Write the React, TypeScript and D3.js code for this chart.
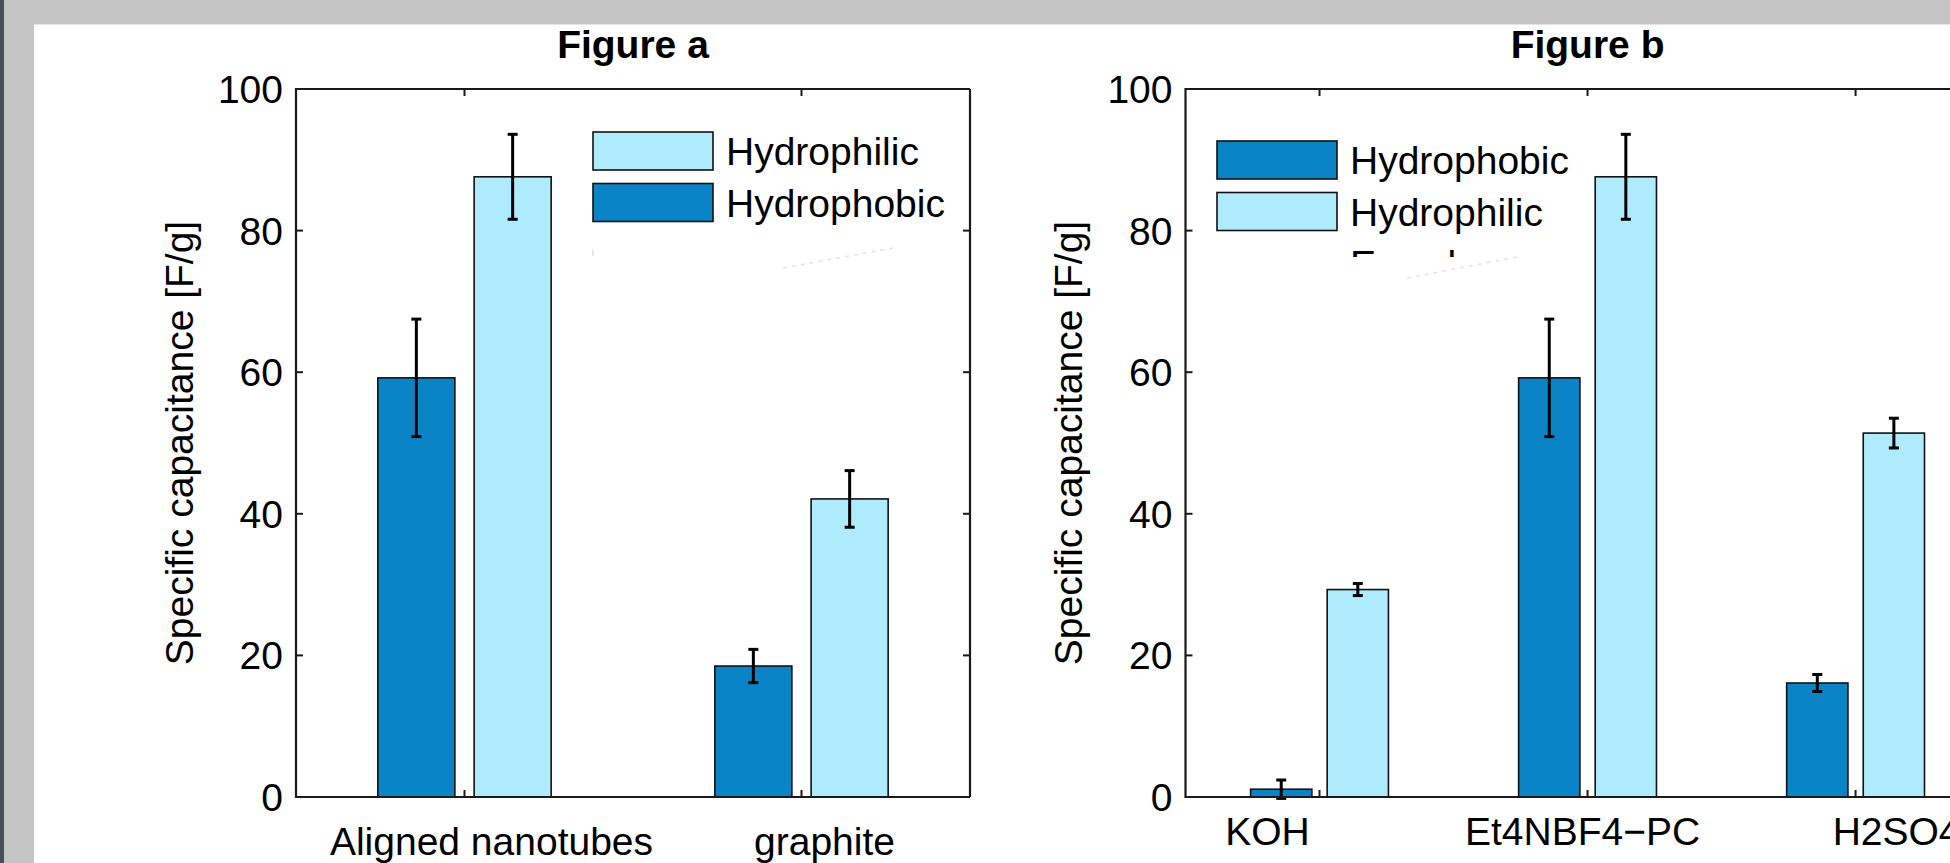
import React, { useRef, useEffect } from 'react';
import * as d3 from 'd3';

const HYDROPHOBIC_COLOR = '#0b84c7';
const HYDROPHILIC_COLOR = '#aeebfc';
const FONT = '"Liberation Sans", Arial, Helvetica, sans-serif';

const yTicks = [0, 20, 40, 60, 80, 100];

// Figure a
const categoriesA = ['Aligned nanotubes', 'graphite'];
const phobicA = [59.2, 18.5];
const phobicErrA = [8.3, 2.35];
const philicA = [87.6, 42.1];
const philicErrA = [6.0, 4.0];

// Figure b
const categoriesB = ['KOH', 'Et4NBF4\u2212PC', 'H2SO4'];
const phobicB = [1.1, 59.2, 16.1];
const phobicErrB = [1.3, 8.3, 1.2];
const philicB = [29.3, 87.6, 51.4];
const philicErrB = [0.85, 6.0, 2.1];

interface Series {
  name: string;
  values: number[];
  errors: number[];
  color: string;
}

interface PanelOpts {
  left: number;
  right: number;
  top: number;
  bottom: number;
  title: string;
  categories: string[];
  series: Series[];
  legend: Series[];
  legendX: number;
  legendY: number;
  labelShift: number[];
  labelBaseline: number;
  yLabelX: number;
}

function drawPanel(svg: d3.Selection<SVGSVGElement, unknown, null, undefined>, o: PanelOpts) {
  const g = svg.append('g');
  const n = o.categories.length;
  const x = d3.scaleLinear().domain([0.5, n + 0.5]).range([o.left, o.right]);
  const y = d3.scaleLinear().domain([0, 100]).range([o.bottom, o.top]);

  // matlab style grouped bars
  const ns = o.series.length;
  const groupW = Math.min(0.8, ns / (ns + 1.5));
  const barW = (groupW / ns) * 0.8;

  o.series.forEach((s, si) => {
    const off = -groupW / 2 + (groupW / ns) * (si + 0.5);
    g.selectAll(null)
      .data(s.values)
      .enter()
      .append('rect')
      .attr('x', (d, i) => x(i + 1 + off - barW / 2))
      .attr('y', (d) => y(d))
      .attr('width', x(1 + barW) - x(1))
      .attr('height', (d) => y(0) - y(d))
      .attr('fill', s.color)
      .attr('stroke', '#111')
      .attr('stroke-width', 1.6);
  });

  // error bars
  o.series.forEach((s, si) => {
    const off = -groupW / 2 + (groupW / ns) * (si + 0.5);
    s.values.forEach((v, i) => {
      const cx = x(i + 1 + off);
      const lo = y(v - s.errors[i]);
      const hi = y(v + s.errors[i]);
      g.append('line')
        .attr('x1', cx).attr('x2', cx)
        .attr('y1', lo).attr('y2', hi)
        .attr('stroke', '#000').attr('stroke-width', 3);
      [lo, hi].forEach((yy) => {
        g.append('line')
          .attr('x1', cx - 5).attr('x2', cx + 5)
          .attr('y1', yy).attr('y2', yy)
          .attr('stroke', '#000').attr('stroke-width', 3);
      });
    });
  });

  // axes: top/left/bottom always, right side only if it lies on the page
  const axisColor = '#1a1a1a';
  g.append('path')
    .attr('d', `M${o.right},${o.top}H${o.left}V${o.bottom}H${o.right}`)
    .attr('fill', 'none')
    .attr('stroke', axisColor)
    .attr('stroke-width', 2.2);
  if (o.right < 1950) {
    g.append('line')
      .attr('x1', o.right).attr('x2', o.right)
      .attr('y1', o.top).attr('y2', o.bottom)
      .attr('stroke', axisColor).attr('stroke-width', 2.2);
  }

  // y ticks (inward, both sides)
  const tickLen = 7;
  yTicks.forEach((t) => {
    const yy = y(t);
    g.append('line')
      .attr('x1', o.left).attr('x2', o.left + tickLen)
      .attr('y1', yy).attr('y2', yy)
      .attr('stroke', axisColor).attr('stroke-width', 2);
    if (o.right < 1950) {
      g.append('line')
        .attr('x1', o.right).attr('x2', o.right - tickLen)
        .attr('y1', yy).attr('y2', yy)
        .attr('stroke', axisColor).attr('stroke-width', 2);
    }
    g.append('text')
      .attr('x', o.left - 13)
      .attr('y', yy + 14)
      .attr('text-anchor', 'end')
      .attr('font-family', FONT)
      .attr('font-size', '39px')
      .attr('fill', '#000')
      .text(t);
  });

  // x ticks (inward, top and bottom) + labels
  o.categories.forEach((c, i) => {
    const xx = x(i + 1);
    g.append('line')
      .attr('x1', xx).attr('x2', xx)
      .attr('y1', o.bottom).attr('y2', o.bottom - tickLen)
      .attr('stroke', axisColor).attr('stroke-width', 2);
    g.append('line')
      .attr('x1', xx).attr('x2', xx)
      .attr('y1', o.top).attr('y2', o.top + tickLen)
      .attr('stroke', axisColor).attr('stroke-width', 2);
    g.append('text')
      .attr('x', xx + o.labelShift[i])
      .attr('y', o.labelBaseline)
      .attr('text-anchor', 'middle')
      .attr('font-family', FONT)
      .attr('font-size', '39px')
      .attr('fill', '#000')
      .text(c);
  });

  // title
  g.append('text')
    .attr('x', (o.left + o.right) / 2)
    .attr('y', 58)
    .attr('text-anchor', 'middle')
    .attr('font-family', FONT)
    .attr('font-size', '39px')
    .attr('font-weight', 'bold')
    .attr('fill', '#000')
    .text(o.title);

  // y axis label
  g.append('text')
    .attr('transform', `translate(${o.yLabelX},${(o.top + o.bottom) / 2}) rotate(-90)`)
    .attr('text-anchor', 'middle')
    .attr('font-family', FONT)
    .attr('font-size', '39px')
    .attr('fill', '#000')
    .text('Specific capacitance [F/g]');

  // legend (no box)
  o.legend.forEach((s, i) => {
    const top = o.legendY + i * 51.5;
    g.append('rect')
      .attr('x', o.legendX)
      .attr('y', top)
      .attr('width', 120)
      .attr('height', 38)
      .attr('fill', s.color)
      .attr('stroke', '#111')
      .attr('stroke-width', 1.6);
    g.append('text')
      .attr('x', o.legendX + 133)
      .attr('y', top + 19 + 14)
      .attr('font-family', FONT)
      .attr('font-size', '39px')
      .attr('fill', '#000')
      .text(s.name);
  });

  return g;
}

export default function App() {
  const svgRef = useRef<SVGSVGElement>(null);

  useEffect(() => {
    document.documentElement.style.overflow = 'hidden';
    document.body.style.margin = '0';
    document.body.style.overflow = 'hidden';
    if (!svgRef.current) return;
    const svg = d3.select(svgRef.current);
    svg.selectAll('*').remove();

    // window frame
    svg.append('rect').attr('width', 1950).attr('height', 863).attr('fill', '#c4c5c4');
    svg.append('rect').attr('width', 4).attr('height', 863).attr('fill', '#4c5054');
    svg.append('rect').attr('x', 34).attr('y', 24).attr('width', 1916).attr('height', 839).attr('fill', '#fff');
    svg.append('line')
      .attr('x1', 34).attr('x2', 1950).attr('y1', 24.5).attr('y2', 24.5)
      .attr('stroke', '#e4e4e4').attr('stroke-width', 1);

    const phobic = (values: number[], errors: number[]): Series => ({
      name: 'Hydrophobic', values, errors, color: HYDROPHOBIC_COLOR,
    });
    const philic = (values: number[], errors: number[]): Series => ({
      name: 'Hydrophilic', values, errors, color: HYDROPHILIC_COLOR,
    });

    const sa = [phobic(phobicA, phobicErrA), philic(philicA, philicErrA)];
    drawPanel(svg, {
      left: 296, right: 970, top: 89, bottom: 797,
      title: 'Figure a',
      categories: categoriesA,
      series: sa,
      legend: [sa[1], sa[0]],
      legendX: 593, legendY: 132,
      labelShift: [27, 23],
      labelBaseline: 855,
      yLabelX: 193,
    });

    const sb = [phobic(phobicB, phobicErrB), philic(philicB, philicErrB)];
    const gb = drawPanel(svg, {
      left: 1185.5, right: 1989.6, top: 89, bottom: 797,
      title: 'Figure b',
      categories: categoriesB,
      series: sb,
      legend: sb,
      legendX: 1217, legendY: 141,
      labelShift: [-52, -5, 41],
      labelBaseline: 845,
      yLabelX: 1082,
    });

    // partly hidden third legend entry in figure b
    const defs = svg.append('defs');
    defs.append('clipPath').attr('id', 'legclip')
      .append('rect').attr('x', 1300).attr('y', 200).attr('width', 300).attr('height', 57);
    gb.append('text')
      .attr('x', 1350)
      .attr('y', 278)
      .attr('clip-path', 'url(#legclip)')
      .attr('font-family', FONT)
      .attr('font-size', '39px')
      .attr('fill', '#000')
      .text('Error bars');

    // faint rendering artifacts under the legends
    svg.append('line')
      .attr('x1', 593).attr('y1', 250).attr('x2', 593).attr('y2', 256)
      .attr('stroke', '#dcdcdc').attr('stroke-width', 1.5);
    svg.append('line')
      .attr('x1', 783).attr('y1', 268).attr('x2', 893).attr('y2', 248)
      .attr('stroke', '#e2e2e2').attr('stroke-width', 1.5).attr('stroke-dasharray', '4,5');
    svg.append('line')
      .attr('x1', 1407).attr('y1', 278).attr('x2', 1517).attr('y2', 257)
      .attr('stroke', '#e2e2e2').attr('stroke-width', 1.5).attr('stroke-dasharray', '4,5');
  }, []);

  return (
    <div style={{ position: 'fixed', left: 0, top: 0, width: 1950, height: 863, overflow: 'hidden' }}>
      <svg ref={svgRef} width={1950} height={863} style={{ display: 'block' }} />
    </div>
  );
}
